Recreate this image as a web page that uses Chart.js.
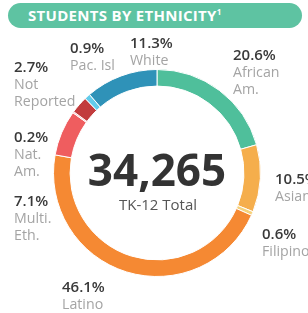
<!DOCTYPE html>
<html>
<head>
<meta charset="utf-8">
<script src="https://cdn.jsdelivr.net/npm/chart.js@4.4.1/dist/chart.umd.min.js"></script>
<style>
  html, body { margin:0; padding:0; width:308px; height:313px; overflow:hidden; background:#fff; font-family:"Open Sans", sans-serif; }
  #title { position:absolute; left:8px; top:3px; width:294px; height:25px; border-radius:13px; background:#5ec3a2;
           color:#fff; font-weight:700; font-size:15px; letter-spacing:0.3px; line-height:25px; padding-left:20px; box-sizing:border-box; white-space:nowrap; }
  #title sup { font-size:8px; vertical-align:6px; line-height:0; }
  #wrap { position:absolute; left:53px; top:69px; width:208px; height:208px; }
  .lbl { position:absolute; white-space:pre; }
  .pct { font-size:15px; font-weight:600; color:#3a3a3a; line-height:17px; }
  .nm { font-size:14.2px; color:#a4a4a4; line-height:17px; }
  #big { position:absolute; left:0; width:314px; text-align:center; top:146px; font-size:44px; font-weight:700; color:#333; line-height:46px; }
  #sub { position:absolute; left:0; width:316px; text-align:center; top:194px; font-size:15px; color:#555; line-height:20px; }
</style>
</head>
<body>
<div id="title">STUDENTS BY ETHNICITY<sup>1</sup></div>
<div id="wrap"><canvas id="c"></canvas></div>
<div id="big"></div>
<div id="sub"></div>
<div id="labels"></div>
<script>
const categories = ['African\nAm.', 'Asian', 'Filipino', 'Latino', 'Multi.\nEth.', 'Nat.\nAm.', 'Not\nReported', 'Pac. Isl', 'White'];
const percents = [20.6, 10.5, 0.6, 46.1, 7.1, 0.2, 2.7, 0.9, 11.3];
const totalStudents = '34,265';
const totalLabel = 'TK-12 Total';

// styling (not data)
const colors = ['#4fbf9b', '#f5ae4c', '#f5d27c', '#f58933', '#ef5d5f', '#f59c9b', '#c23c3d', '#62cbea', '#2f92b8'];
const labelPos = [[233,54],[275,178],[262,233],[62,286],[14,200],[14,136],[14,66],[70,47],[130,42]];

new Chart(document.getElementById('c'), {
  type: 'doughnut',
  data: {
    labels: categories,
    datasets: [{ data: percents, backgroundColor: colors, borderColor: '#fff', borderWidth: 1 }]
  },
  options: {
    responsive: true, maintainAspectRatio: false, animation: false,
    cutout: '84%',
    plugins: { legend: { display: false }, tooltip: { enabled: false } }
  }
});

document.getElementById('big').textContent = totalStudents;
document.getElementById('sub').textContent = totalLabel;
const L = document.getElementById('labels');
categories.forEach((c, i) => {
  const d = document.createElement('div');
  d.className = 'lbl';
  d.style.left = labelPos[i][0] + 'px';
  d.style.top = (labelPos[i][1] - 8.5) + 'px';
  d.innerHTML = '<div class="pct">' + percents[i].toFixed(1) + '%</div><div class="nm"></div>';
  d.querySelector('.nm').textContent = c;
  L.appendChild(d);
});
</script>
</body>
</html>
